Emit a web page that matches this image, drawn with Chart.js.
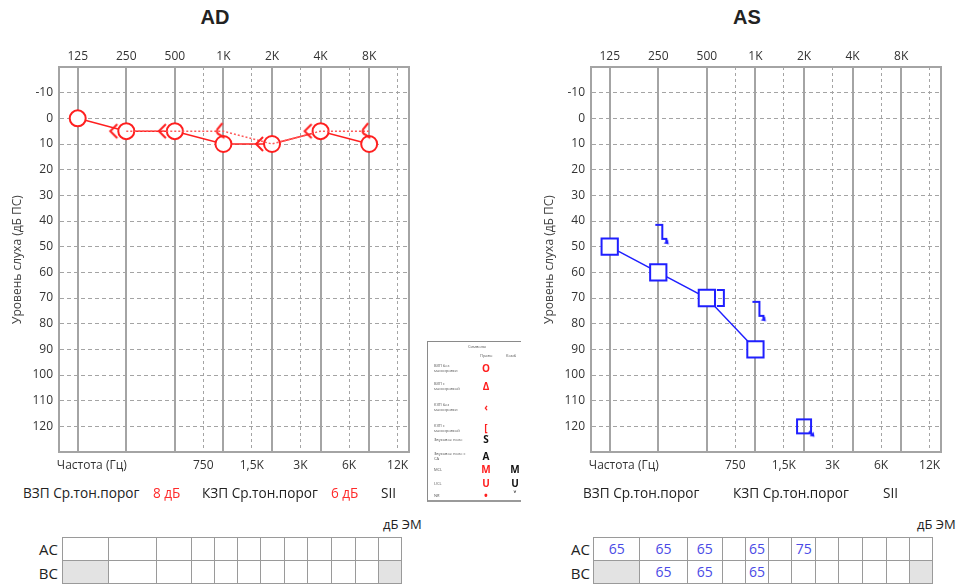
<!DOCTYPE html>
<html>
<head>
<meta charset="utf-8">
<script src="https://cdn.jsdelivr.net/npm/chart.js@4.4.1/dist/chart.umd.min.js"></script>
<style>
  html, body { margin: 0; padding: 0; background: #fff; }
  body { width: 956px; height: 585px; overflow: hidden; position: relative; font-family: "Open Sans", "Noto Sans", sans-serif; color: #222; }
  .abs { position: absolute; white-space: nowrap; }
  .ttl { font-family: "Liberation Sans", Arial, sans-serif; font-weight: bold; font-size: 20px; line-height: 20px; top: 7px; width: 430px; text-align: center; }
  .cv { position: absolute; top: 0; width: 430px; height: 480px; }
  .stat { font-size: 13.6px; line-height: 20px; top: 483px; color: #222; }
  .stat.red { color: #ff2a2a; }
  .unit { font-size: 13px; line-height: 18px; top: 515px; color: #222; }
  .rowlbl { font-size: 15px; line-height: 24px; width: 30px; text-align: right; color: #222; }
  table.thr { position: absolute; top: 537px; border-collapse: collapse; table-layout: fixed; width: 340px; }
  table.thr td { border: 1px solid #9a9a9a; height: 22px; padding: 0; text-align: center; font-size: 14px; color: #4a4ae6; line-height: 22px; }
  table.thr td.shade { background: #e3e3e3; }
  .legend { position: absolute; left: 427px; top: 341px; width: 93px; height: 158px; border-left: 1px solid #8a8a8a; border-top: 1px solid #8a8a8a; border-bottom: 2px solid #9a9a9a; overflow: hidden; font-size: 4px; line-height: 5px; color: #555; }
  .legend .sym { position: absolute; font-size: 10px; line-height: 10px; font-weight: bold; width: 12px; text-align: center; }
  .legend .lab { position: absolute; left: 6px; }
</style>
</head>
<body>
<div class="abs ttl" style="left:0">AD</div>
<div class="abs ttl" style="left:532px">AS</div>
<div class="cv" style="left:0"><canvas id="adChart"></canvas></div>
<div class="cv" style="left:532px"><canvas id="asChart"></canvas></div>
<div class="legend" id="legendBox"></div>
<div id="bottomArea"></div>

<script>
// ---- axis labels / ticks ----
const FREQ_HZ = [125, 250, 500, 1000, 2000, 4000, 8000];
const FREQ_TOP = ['125', '250', '500', '1K', '2K', '4K', '8K'];
const FREQ_MID_HZ = [750, 1500, 3000, 6000, 12000];
const FREQ_MID = ['750', '1,5K', '3K', '6K', '12K'];
const DB_TICKS = [-10, 0, 10, 20, 30, 40, 50, 60, 70, 80, 90, 100, 110, 120];

// ---- AD (right ear) ----
const AD_AIR = [0, 5, 5, 10, 10, 5, 10];             // at FREQ_HZ
const AD_BONE_HZ = [250, 500, 1000, 2000, 4000, 8000];
const AD_BONE = [5, 5, 5, 10, 5, 5];
const AD_BONE_NR = [false, false, true, false, false, true];

// ---- AS (left ear) ----
const AS_AIR_HZ = [125, 250, 500, 1000];
const AS_AIR = [50, 60, 70, 90];
const AS_AIR_NR_HZ = [2000];
const AS_AIR_NR = [120];
const AS_BONE_HZ = [250, 500, 1000];
const AS_BONE = [45, 70, 75];
const AS_BONE_NR = [true, false, true];

// ---- summary rows ----
const AD_STATS = ['ВЗП Ср.тон.порог', '8 дБ', 'КЗП Ср.тон.порог', '6 дБ', 'SII'];
const AS_STATS = ['ВЗП Ср.тон.порог', '', 'КЗП Ср.тон.порог', '', 'SII'];
// masking table (null = shaded cell)
const AD_AC_ROW = ['', '', '', '', '', '', '', '', '', '', '', ''];
const AD_BC_ROW = [null, '', '', '', '', '', '', '', '', '', '', null];
const AS_AC_ROW = ['65', '65', '65', '', '65', '', '75', '', '', '', '', ''];
const AS_BC_ROW = [null, '65', '65', '', '65', '', '', '', '', '', '', null];
const TABLE_COLS = [46, 47, 35, 23, 23, 23, 24, 23, 23, 24, 23, 23];

const RED = '#ff1f1f';
const BLUE = '#1f1fff';
const GRID = '#a4a4a4';
const FONT = '"Open Sans", "Noto Sans", sans-serif';
const X_MIN = -0.385, X_MAX = 6.82;

const oct = hz => Math.log2(hz / 125);
const pts = (hz, vals) => hz.map((f, i) => ({ x: oct(f), y: vals[i] }));

// small glyph images used as point styles
function glyph(draw) {
  const c = document.createElement('canvas');
  c.width = 44; c.height = 44;
  const g = c.getContext('2d');
  g.translate(22, 22);
  g.lineWidth = 2; g.lineJoin = 'miter'; g.lineCap = 'butt';
  draw(g);
  return c;
}
function arrowHead(g, x, y, color) {
  g.fillStyle = color;
  g.beginPath(); g.moveTo(x + 1.5, y + 1.5); g.lineTo(x - 3.5, y + 0.5); g.lineTo(x + 0.5, y - 3.5); g.closePath(); g.fill();
}
const G_BONE_R = glyph(g => {
  g.strokeStyle = RED;
  g.beginPath(); g.moveTo(-9, -7); g.lineTo(-16, 0); g.lineTo(-9, 7); g.stroke();
});
const G_BONE_R_NR = glyph(g => {
  g.strokeStyle = RED;
  g.beginPath(); g.moveTo(-1, -8); g.lineTo(-6, -2); g.quadraticCurveTo(-8, 2, -3, 4); g.lineTo(1, 7); g.stroke();
});
const G_MBONE_L = glyph(g => {
  g.strokeStyle = BLUE;
  g.beginPath(); g.moveTo(10, -8); g.lineTo(17, -8); g.lineTo(17, 8); g.lineTo(10, 8); g.stroke();
});
const G_MBONE_L_NR = glyph(g => {
  g.strokeStyle = BLUE;
  g.beginPath(); g.moveTo(-3, -9); g.lineTo(4, -9); g.lineTo(4, 5); g.lineTo(8, 5); g.lineTo(8, 8); g.stroke();
  arrowHead(g, 9, 9, BLUE);
});
const G_SQ_NR = glyph(g => {
  g.strokeStyle = BLUE;
  g.strokeRect(-7, -7, 14, 14);
  g.beginPath(); g.moveTo(5, 5); g.lineTo(8, 8); g.stroke();
  arrowHead(g, 9, 9, BLUE);
});

function scales() {
  const tickFont = { size: 12, family: FONT };
  return {
    xTop: {
      type: 'linear', position: 'top', min: X_MIN, max: X_MAX,
      afterBuildTicks: s => { s.ticks = FREQ_HZ.map(f => ({ value: oct(f) })); },
      afterFit: s => { s.height = 67; },
      ticks: { autoSkip: false, maxRotation: 0, padding: 3, color: '#333', font: tickFont, callback: (v, i) => FREQ_TOP[i] },
      grid: { color: GRID, lineWidth: 2, drawTicks: false },
      border: { color: GRID, width: 2 },
    },
    xBot: {
      type: 'linear', position: 'bottom', min: X_MIN, max: X_MAX,
      afterBuildTicks: s => { s.ticks = [{ value: 0.29 }].concat(FREQ_MID_HZ.map(f => ({ value: oct(f) }))); },
      afterFit: s => { s.height = 28; },
      ticks: { autoSkip: false, maxRotation: 0, padding: 6, color: '#333', font: tickFont, callback: (v, i) => i === 0 ? 'Частота (Гц)' : FREQ_MID[i - 1] },
      grid: { color: c => c.index === 0 ? 'rgba(0,0,0,0)' : GRID, lineWidth: 1, drawTicks: false },
      border: { color: GRID, width: 2, dash: [3, 3] },
    },
    y: {
      type: 'linear', position: 'left', reverse: true, min: -20, max: 130,
      afterBuildTicks: s => { s.ticks = DB_TICKS.map(v => ({ value: v })); },
      afterFit: s => { s.width = 59; },
      ticks: { padding: 6, color: '#333', font: tickFont, callback: v => String(v) },
      grid: { color: GRID, lineWidth: 1, drawTicks: false },
      border: { color: GRID, width: 2, dash: [4, 3] },
      title: { display: true, text: 'Уровень слуха (дБ ПС)', color: '#444', font: { size: 12, family: FONT }, padding: { top: 10, bottom: 0 } },
    },
    yRight: {
      type: 'linear', position: 'right', reverse: true, min: -20, max: 130,
      afterFit: s => { s.width = 21; },
      ticks: { display: false },
      grid: { display: false },
      border: { color: GRID, width: 2 },
    },
  };
}

function audiogram(id, datasets) {
  return new Chart(document.getElementById(id).getContext('2d'), {
    type: 'line',
    data: { datasets: datasets.map(d => Object.assign({ xAxisID: 'xTop', yAxisID: 'y', tension: 0 }, d)) },
    options: {
      responsive: true, maintainAspectRatio: false, animation: false, events: [],
      layout: { padding: 0 },
      plugins: { legend: { display: false }, tooltip: { enabled: false }, title: { display: false } },
      scales: scales(),
    },
  });
}

audiogram('adChart', [
  { label: 'КЗП', data: pts(AD_BONE_HZ, AD_BONE), borderColor: '#ff5a5a', borderWidth: 1.5, borderDash: [2, 2],
    pointStyle: AD_BONE_NR.map(nr => nr ? G_BONE_R_NR : G_BONE_R), pointRadius: 5 },
  { label: 'ВЗП', data: pts(FREQ_HZ, AD_AIR), borderColor: RED, borderWidth: 1.5,
    pointStyle: 'circle', pointRadius: 8, pointBorderWidth: 2, pointBorderColor: RED, pointBackgroundColor: '#fff' },
]);

audiogram('asChart', [
  { label: 'ВЗП', data: pts(AS_AIR_HZ, AS_AIR), borderColor: BLUE, borderWidth: 1.5,
    pointStyle: 'rect', pointRadius: 11.5, pointBorderWidth: 2, pointBorderColor: BLUE, pointBackgroundColor: '#fff' },
  { label: 'ВЗП NR', data: pts(AS_AIR_NR_HZ, AS_AIR_NR), showLine: false, pointStyle: G_SQ_NR, pointRadius: 5 },
  { label: 'КЗП', data: pts(AS_BONE_HZ, AS_BONE), showLine: false,
    pointStyle: AS_BONE_NR.map(nr => nr ? G_MBONE_L_NR : G_MBONE_L), pointRadius: 5 },
]);

// ---- symbols legend ----
const LEG_ROWS = [
  ['ВЗП без<br>маскировки', 'O', '', 26, RED],
  ['ВЗП с<br>маскировкой', 'Δ', '', 44, RED],
  ['КЗП без<br>маскировки', '‹', '', 65, RED],
  ['КЗП с<br>маскировкой', '[', '', 86, RED],
  ['Звуковое поле', 'S', '', 97, '#111'],
  ['Звуковое поле с<br>СА', 'A', '', 114, '#111'],
  ['MCL', 'M', 'M', 127, RED],
  ['UCL', 'U', 'U', 141, RED],
  ['NR', '•', '˅', 153, RED],
];
(function () {
  const box = document.getElementById('legendBox');
  let html = '<div class="lab" style="left:40px;top:2px">Символы</div>' +
             '<div class="lab" style="left:52px;top:11px">Право</div><div class="lab" style="left:78px;top:11px">Комб</div>';
  LEG_ROWS.forEach(r => {
    const two = r[0].indexOf('<br>') >= 0;
    html += `<div class="lab" style="top:${r[3] - (two ? 5 : 2)}px">${r[0]}</div>`;
    html += `<div class="sym" style="left:52px;top:${r[3] - 5}px;color:${r[4]}">${r[1]}</div>`;
    if (r[2]) html += `<div class="sym" style="left:81px;top:${r[3] - 5}px;color:#111">${r[2]}</div>`;
  });
  box.innerHTML = html;
})();

// ---- summary text + masking tables ----
(function () {
  const area = document.getElementById('bottomArea');
  const statX = [[23, 153, 202, 331, 381], [583, 0, 733, 0, 883]];
  let html = '';
  [AD_STATS, AS_STATS].forEach((st, k) => {
    st.forEach((t, i) => {
      if (!t) return;
      html += `<div class="abs stat${i % 2 ? ' red' : ''}" style="left:${statX[k][i]}px">${t}</div>`;
    });
  });
  html += '<div class="abs unit" style="left:383px">дБ ЭМ</div><div class="abs unit" style="left:917px">дБ ЭМ</div>';
  const tbl = (left, rows) => {
    let h = `<table class="thr" style="left:${left}px"><colgroup>${TABLE_COLS.map(w => `<col style="width:${w}px">`).join('')}</colgroup>`;
    rows.forEach(row => {
      h += '<tr>' + row.map(c => c === null ? '<td class="shade"></td>' : `<td>${c}</td>`).join('') + '</tr>';
    });
    return h + '</table>';
  };
  html += tbl(62, [AD_AC_ROW, AD_BC_ROW]) + tbl(593, [AS_AC_ROW, AS_BC_ROW]);
  html += '<div class="abs rowlbl" style="left:28px;top:537px">AC</div><div class="abs rowlbl" style="left:28px;top:561px">BC</div>';
  html += '<div class="abs rowlbl" style="left:560px;top:537px">AC</div><div class="abs rowlbl" style="left:560px;top:561px">BC</div>';
  area.innerHTML = html;
})();
</script>
</body>
</html>
